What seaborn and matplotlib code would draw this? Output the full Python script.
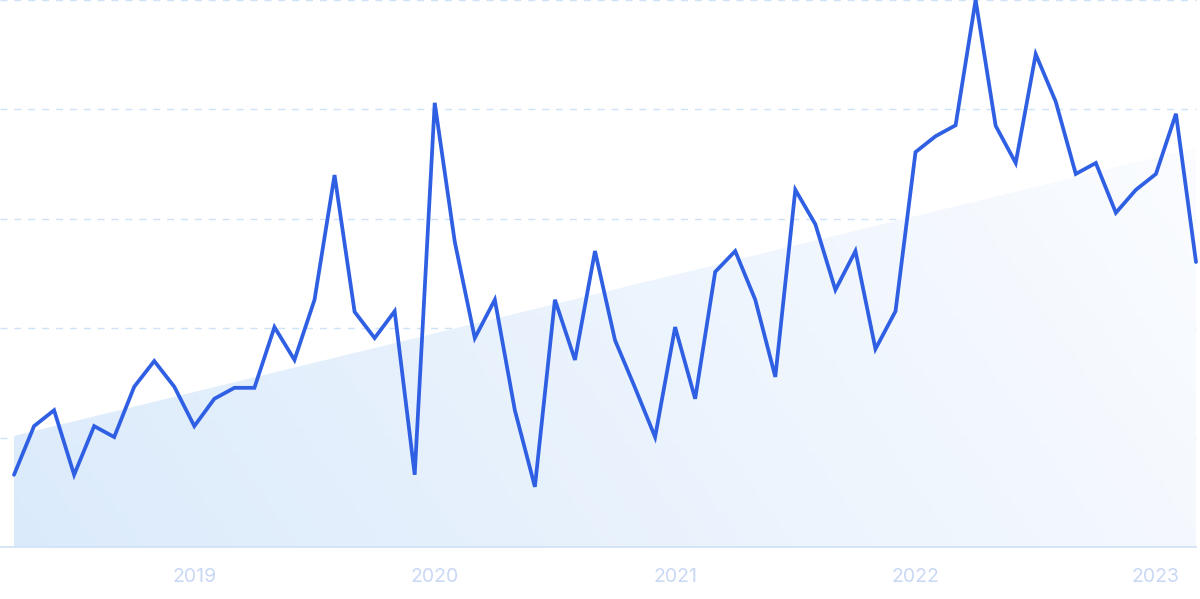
import numpy as np
import pandas as pd
import matplotlib
matplotlib.use("Agg")
import matplotlib.pyplot as plt
import seaborn as sns
from matplotlib.patches import Polygon

# Monthly values, Apr 2018 .. Mar 2023
months = pd.date_range("2018-04-01", periods=60, freq="MS")
values = [13.2, 22.1, 25.0, 13.2, 22.1, 20.1, 29.3, 34.0, 29.3, 22.1,
          27.1, 29.1, 29.1, 40.2, 34.2, 45.2, 68.0, 43.0, 38.2, 43.1,
          13.2, 81.2, 55.8, 38.2, 45.2, 25.0, 11.0, 45.2, 34.2, 54.1,
          37.8, 29.1, 20.1, 40.2, 27.1, 50.3, 54.1, 45.2, 31.1, 65.3,
          59.0, 47.0, 54.1, 36.2, 43.1, 72.2, 75.1, 77.1, 100.0, 77.0,
          70.2, 90.1, 81.4, 68.2, 70.2, 61.1, 65.3, 68.2, 79.2, 52.1]
trend_start, trend_end = 20.3, 73.0
tick_labels = ["2019", "2020", "2021", "2022", "2023"]

df = pd.DataFrame({"idx": np.arange(len(values)), "month": months, "value": values})
tick_pos = [df.index[(df.month.dt.year == int(y)) & (df.month.dt.month == 1)][0] for y in tick_labels]

sns.set_theme(style="white")
plt.rcParams['font.family'] = ['Inter', 'DejaVu Sans']

fig = plt.figure(figsize=(12, 5.99), dpi=100)
ax = fig.add_axes([0.0, 52/599, 1196/1200, 547/599])

n = len(values)
xmin, xmax = -0.7, n - 1
ax.set_xlim(xmin, xmax)
ax.set_ylim(0, 100)

# gradient trend area
trend = np.linspace(trend_start, trend_end, n)
poly_x = np.concatenate([[0], df.idx.values, [n - 1]])
poly_y = np.concatenate([[0], trend, [0]])
poly = Polygon(np.column_stack([poly_x, poly_y]), closed=True, facecolor="none", edgecolor="none")
ax.add_patch(poly)
c1 = np.array([0.86, 0.92, 0.985])
c2 = np.array([0.985, 0.99, 1.0])
gx = np.linspace(0, 1, 256)[None, :]
gy = np.linspace(0, 1, 64)[:, None]
t = np.clip(0.8 * gx + 0.25 * (1 - gy), 0, 1)
img = c1[None, None, :] * (1 - t[..., None]) + c2[None, None, :] * t[..., None]
im = ax.imshow(img, extent=[0, n - 1, 0, 100], origin="upper", aspect="auto", zorder=1)
im.set_clip_path(poly)

# grid lines
for gv in [20, 40, 60, 80, 100]:
    ax.axhline(gv, color="#cfe3f8", lw=1, ls=(0, (5, 5)), zorder=0.5, clip_on=False)

sns.lineplot(data=df, x="idx", y="value", ax=ax, color="#2f5fe3", lw=2.7, zorder=3,
             clip_on=False, solid_joinstyle="miter")

for s in ["top", "right", "left"]:
    ax.spines[s].set_visible(False)
ax.spines["bottom"].set_color("#cfe0f6")
ax.spines["bottom"].set_linewidth(1.2)

ax.set_xticks(tick_pos)
ax.set_xticklabels(tick_labels)
ax.tick_params(axis="x", length=0, labelsize=14, labelcolor="#c9d8f5", pad=15)
ax.set_yticks([])
ax.set_xlabel("")
ax.set_ylabel("")
ax.grid(False)

fig.savefig("out.png", dpi=100)
